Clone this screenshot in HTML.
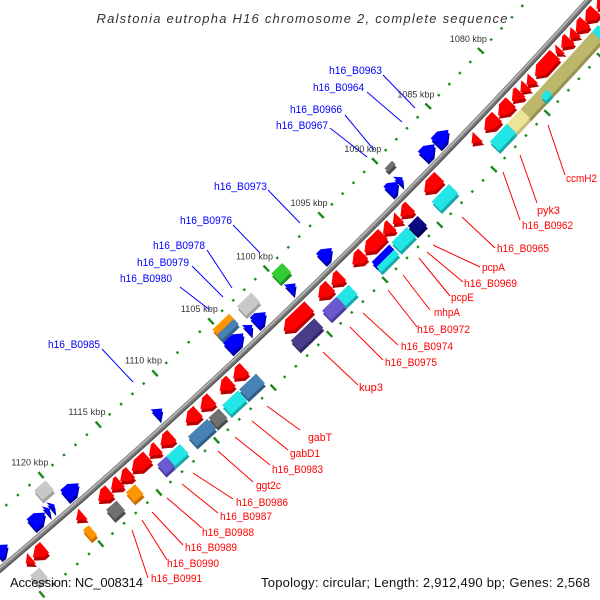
<!DOCTYPE html>
<html><head><meta charset="utf-8">
<style>
html,body{margin:0;padding:0;background:#fff;width:600px;height:600px;overflow:hidden;}
svg{display:block;overflow:hidden;}
text{font-family:"Liberation Sans",sans-serif;}
</style></head>
<body>
<svg id="map" width="600" height="600" viewBox="0 0 600 600" xmlns="http://www.w3.org/2000/svg">
<rect x="0" y="0" width="600" height="600" fill="#fff"/>
<g id="ticks"></g>
<g id="backbone"></g>
<g id="features"></g>
<g id="labels"></g>
<text x="302" y="23" text-anchor="middle" font-size="13" font-style="italic" fill="#333" textLength="411">Ralstonia eutropha H16 chromosome 2, complete sequence</text>
<text x="10" y="587" font-size="13" fill="#111" textLength="133">Accession: NC_008314</text>
<text x="261" y="587" font-size="13" fill="#111" textLength="329">Topology: circular; Length: 2,912,490 bp; Genes: 2,568</text>
</svg>
<script>
// ---- data (kbp) ----
const minusStart = [1071.9,1073.0,1074.0,1074.9,1075.5,1076.4,1076.9,1079.0,1079.6,1080.2,1081.1,1082.4,1084.2,1087.8,1090.5,1091.5,1092.2,1093.0,1094.8,1096.8,1097.8,1099.7,1105.5,1106.7,1108.4,1109.6,1111.9,1113.1,1114.0,1115.5,1116.4,1117.3,1119.6,1122.9,1124.0];
const minusEnd   = [1072.9,1074.0,1074.9,1075.5,1076.3,1076.8,1078.8,1079.6,1080.2,1081.0,1082.3,1083.6,1084.8,1089.2,1091.4,1092.1,1093.0,1094.7,1095.8,1097.7,1098.9,1102.0,1106.5,1107.7,1109.4,1110.7,1112.9,1113.9,1115.4,1116.4,1117.2,1118.3,1120.2,1123.9,1124.5];
const plusStart = [1085.2,1086.5,1089.5,1089.9,1096.0,1099.3,1102.0,1103.2,1104.0,1111.2,1118.5,1120.6,1121.0,1121.4,1124.6];
const plusEnd   = [1086.4,1087.6,1089.9,1090.8,1097.0,1099.9,1103.0,1103.7,1105.4,1111.8,1119.7,1120.9,1121.3,1122.6,1125.5];
const innerBoxStart = [1073.6,1074.2,1076.5,1079.3,1081.0,1082.3,1087.7,1090.6,1091.6,1093.2,1093.2,1096.9,1098.0,1100.0,1105.2,1106.8,1108.5,1109.5,1111.9,1113.1,1115.8,1117.4,1119.8,1124.0,1078.9];
const innerBoxEnd   = [1074.2,1076.5,1079.3,1081.0,1082.3,1083.9,1089.3,1091.5,1093.0,1094.8,1094.8,1098.0,1099.3,1102.1,1106.7,1108.2,1109.4,1111.2,1113.1,1113.9,1116.6,1118.3,1120.3,1124.8,1079.5];
const innerBoxColor = ["cyan","olive","olive","olive","lightyellow","cyan","cyan","navy","cyan","blue","cyan","cyan","slate","darkslate","steel","cyan","gray","steel","cyan","slate","orange","gray","orange","lightgray","cyan"];
const innerBoxRow   = ["full","full","full","full","full","full","full","full","full","near","far","full","full","full","full","full","full","full","full","full","full","full","full","full","small"];
const outerBoxStart = [1089.2,1099.0,1101.8,1103.8,1103.8,1120.0];
const outerBoxEnd   = [1089.9,1100.0,1103.1,1105.3,1105.3,1121.0];
const outerBoxColor = ["gray","green","lightgray","orange","steel","lightgray"];
const outerBoxRow   = ["thin","full","full","far","near","full"];
const tickFrom = 1058, tickTo = 1132;

// ---- geometry ----
const CX=-3868, CY=-4016, R=5999;
const thA=Math.atan2(0-CY, 589-CX);
function S(k){return 265+15.4*(k-1090);}
function P(s,d){const t=thA+s/R, r=R+d;return [CX+r*Math.cos(t), CY+r*Math.sin(t)];}
function ptsStr(arr){return arr.map(a=>{const p=P(a[0],a[1]);return p[0].toFixed(2)+","+p[1].toFixed(2);}).join(" ");}
const NS="http://www.w3.org/2000/svg";
const COLORS={red:["#ff0000","#b80000"],blue:["#0000ff","#0000a0"],cyan:["#22e6e6","#17a8a8"],olive:["#bdb76b","#97914f"],lightyellow:["#eee39a","#c9bd74"],navy:["#0a0a80","#000050"],slate:["#6a5acd","#4a3ca0"],darkslate:["#483d8b","#2f2766"],steel:["#4682b4","#2f5f88"],gray:["#707070","#4d4d4d"],lightgray:["#c8c8c8","#a0a0a0"],orange:["#ff9500","#c86e00"],green:["#33cc33","#1e911e"]};

// backbone
(function(){
  const g=document.getElementById('backbone');
  function arc(d,w,c){
    const pts=[];for(let s=-40;s<=880;s+=10)pts.push([s,d]);
    const pl=document.createElementNS(NS,'polyline');
    pl.setAttribute('points',ptsStr(pts));pl.setAttribute('fill','none');
    pl.setAttribute('stroke',c);pl.setAttribute('stroke-width',w);
    
    
    g.appendChild(pl);
  }
  arc(0,6,'#7a7a7a');arc(-1.3,1.8,'#b4b4b4');arc(2.2,1.2,'#555');
})();

// ticks
(function(){
  const g=document.getElementById('ticks');
  for(let k=tickFrom;k<=tickTo;k++){
    const s=S(k), major=(k%5===0);
    [[-45,'outer'],[46,'inner']].forEach(row=>{
      const d=row[0], half=major?4:1.2;
      const a=P(s,d-half), b=P(s,d+half);
      const ln=document.createElementNS(NS,'line');
      ln.setAttribute('x1',a[0]);ln.setAttribute('y1',a[1]);ln.setAttribute('x2',b[0]);ln.setAttribute('y2',b[1]);
      ln.setAttribute('stroke','#1b8a1b');ln.setAttribute('stroke-width','2.4');
      
      
      g.appendChild(ln);
    });
    if(major){
      const p=P(s,-62);
      const t=document.createElementNS(NS,'text');
      t.setAttribute('x',p[0]);t.setAttribute('y',p[1]+3);t.setAttribute('text-anchor','middle');
      t.setAttribute('font-size','9');t.setAttribute('fill','#333');t.setAttribute('textLength','37');
      t.textContent=k+' kbp';
      
      
      g.appendChild(t);
    }
  }
})();

// features
(function(){
  const g=document.getElementById('features');
  function poly(pts,fill,name){
    const p=document.createElementNS(NS,'polygon');
    p.setAttribute('points',ptsStr(pts));p.setAttribute('fill',fill);
    
    
    g.appendChild(p);
  }
  function arrow(k0,k1,d1,d2,dir,col,name){
    const s0=S(k0), s1=S(k1), L=s1-s0, h=Math.min(9,L), m=(d1+d2)/2;
    function shape(ds,dd){
      if(dir>0) return [[s0+ds,d1+dd],[s1-h+ds,d1+dd],[s1+ds,m+dd],[s1-h+ds,d2+dd],[s0+ds,d2+dd]];
      return [[s1+ds,d1+dd],[s0+h+ds,d1+dd],[s0+ds,m+dd],[s0+h+ds,d2+dd],[s1+ds,d2+dd]];
    }
    poly(shape(1.5,3),COLORS[col][1],name+'-shadow');
    poly(shape(0,0),COLORS[col][0],name);
  }
  function box(k0,k1,d1,d2,col,name){
    const s0=S(k0), s1=S(k1);
    poly([[s0+1.5,d1+3],[s1+1.5,d1+3],[s1+1.5,d2+3],[s0+1.5,d2+3]],COLORS[col][1],name+'-shadow');
    poly([[s0,d1],[s1,d1],[s1,d2],[s0,d2]],COLORS[col][0],name);
  }
  for(let i=0;i<innerBoxStart.length;i++){
    const r=innerBoxRow[i];
    let d1=24,d2=37;
    if(r==='near'){d1=24;d2=31;} else if(r==='far'){d1=31;d2=38;} else if(r==='small'){d1=30;d2=37;}
    box(innerBoxStart[i],innerBoxEnd[i],d1,d2,innerBoxColor[i],'minus-box-'+innerBoxColor[i]);
  }
  for(let i=0;i<outerBoxStart.length;i++){
    const r=outerBoxRow[i];
    let d1=-38,d2=-25;
    if(r==='far'){d1=-38;d2=-31;} else if(r==='near'){d1=-31;d2=-24;} else if(r==='thin'){d1=-33;d2=-28;}
    box(outerBoxStart[i],outerBoxEnd[i],d1,d2,outerBoxColor[i],'plus-box-'+outerBoxColor[i]);
  }
  for(let i=0;i<minusStart.length;i++) arrow(minusStart[i],minusEnd[i],5,19,1,'red','minus-gene');
  for(let i=0;i<plusStart.length;i++) arrow(plusStart[i],plusEnd[i],-21,-7,-1,'blue','plus-gene');
})();

// gene labels: [text, lineX1, lineY1, lineX2, lineY2, textX, baselineY, width, color]
const geneLabels=[
["h16_B0963",415,108,383,75,329,74,53,"#0000ff"],
["h16_B0964",402,122,367,92,313,91,51,"#0000ff"],
["h16_B0966",374,150,345,115,290,113,52,"#0000ff"],
["h16_B0967",367,157,330,128,276,129,52,"#0000ff"],
["h16_B0973",300,223,268,190,214,190,53,"#0000ff"],
["h16_B0976",260,253,233,225,180,224,52,"#0000ff"],
["h16_B0978",232,288,207,250,153,249,52,"#0000ff"],
["h16_B0979",223,297,192,266,137,266,52,"#0000ff"],
["h16_B0980",210,310,180,287,120,282,52,"#0000ff"],
["h16_B0985",133,382,102,349,48,348,52,"#0000ff"],
["ccmH2",548,125,565,175,566,182,31,"#ff0000"],
["pyk3",520,155,537,203,537,214,23,"#ff0000"],
["h16_B0962",503,172,520,220,522,229,51,"#ff0000"],
["h16_B0965",462,217,495,248,497,252,52,"#ff0000"],
["pcpA",433,245,480,267,482,271,23,"#ff0000"],
["h16_B0969",427,252,463,282,464,287,53,"#ff0000"],
["pcpE",419,258,450,296,451,301,23,"#ff0000"],
["mhpA",403,275,430,310,434,316,26,"#ff0000"],
["h16_B0972",388,290,417,327,417,333,53,"#ff0000"],
["h16_B0974",363,313,398,345,401,350,52,"#ff0000"],
["h16_B0975",350,327,383,360,385,366,52,"#ff0000"],
["kup3",323,352,358,385,359,391,24,"#ff0000"],
["gabT",267,406,300,430,308,441,24,"#ff0000"],
["gabD1",252,421,288,450,290,457,30,"#ff0000"],
["h16_B0983",235,437,270,465,272,473,51,"#ff0000"],
["ggt2c",218,451,253,482,256,489,25,"#ff0000"],
["h16_B0986",193,473,233,499,236,506,52,"#ff0000"],
["h16_B0987",182,484,218,513,220,520,52,"#ff0000"],
["h16_B0988",167,498,202,528,202,536,52,"#ff0000"],
["h16_B0989",152,512,183,545,185,551,52,"#ff0000"],
["h16_B0990",142,520,167,560,167,567,52,"#ff0000"],
["h16_B0991",132,530,148,578,151,582,51,"#ff0000"]
];
(function(){
  const g=document.getElementById('labels');
  geneLabels.forEach(L=>{
    const ln=document.createElementNS(NS,'line');
    ln.setAttribute('x1',L[1]);ln.setAttribute('y1',L[2]);ln.setAttribute('x2',L[3]);ln.setAttribute('y2',L[4]);
    ln.setAttribute('stroke',L[8]);ln.setAttribute('stroke-width','1');
    
    
    g.appendChild(ln);
    const t=document.createElementNS(NS,'text');
    t.setAttribute('x',L[5]);t.setAttribute('y',L[6]);t.setAttribute('font-size','11');
    t.setAttribute('fill',L[8]);t.setAttribute('textLength',L[7]);t.setAttribute('lengthAdjust','spacingAndGlyphs');
    t.textContent=L[0];
    
    
    g.appendChild(t);
  });
})();
</script>
</body></html>
